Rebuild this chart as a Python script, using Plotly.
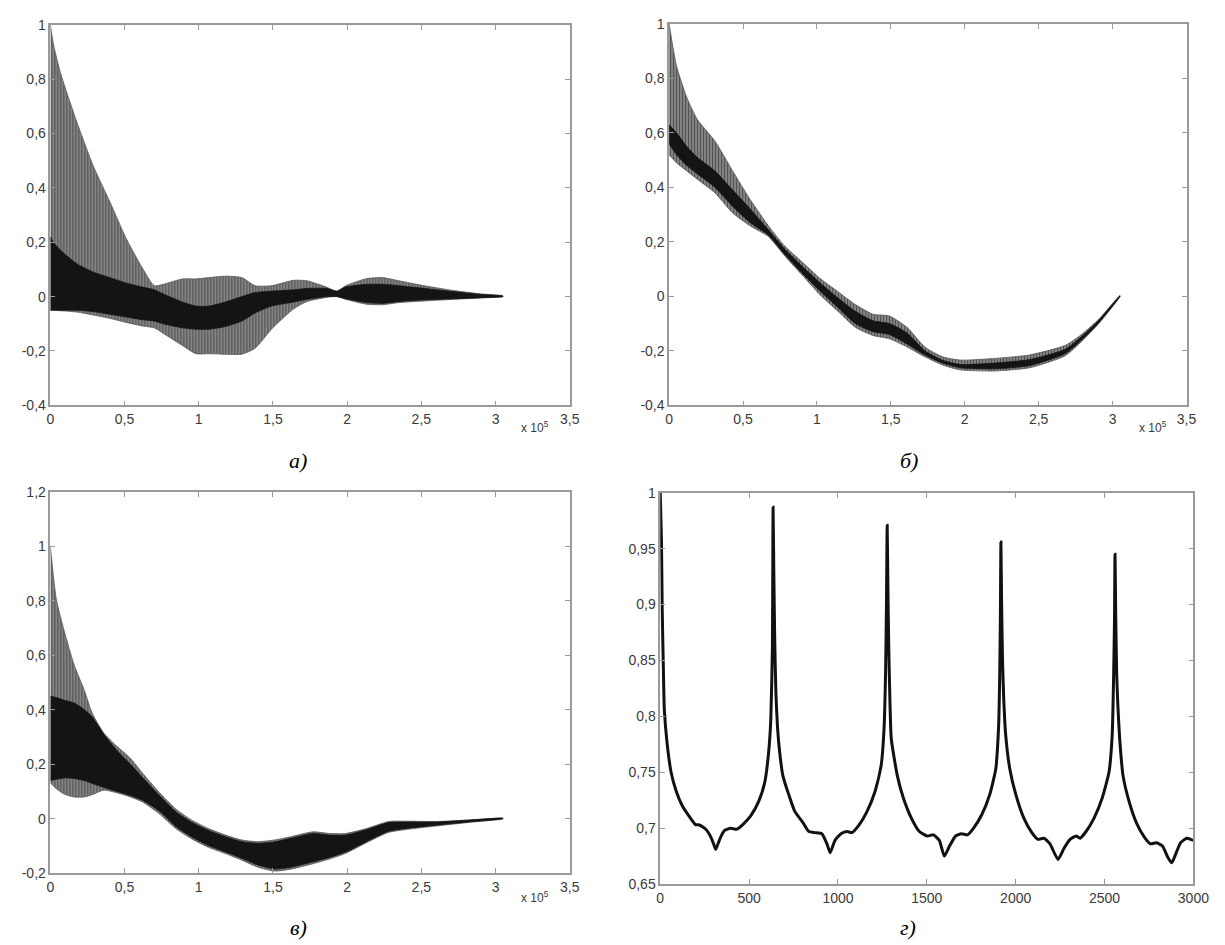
import plotly.graph_objects as go

W, H = 1225, 945

# ---- panel а (x in units of 1e5) ----
a_x = [0, 0.02, 0.07, 0.18, 0.29, 0.40, 0.51, 0.62, 0.70, 0.76, 0.89, 0.98, 1.07, 1.18, 1.29,
       1.38, 1.49, 1.64, 1.73, 1.86, 1.93, 1.99, 2.13, 2.24, 2.35, 2.52, 2.72, 2.90, 3.05]
a_upper = [1.0, 0.93, 0.82, 0.64, 0.48, 0.35, 0.215, 0.105, 0.04, 0.045, 0.065, 0.065, 0.07, 0.075, 0.07,
           0.04, 0.04, 0.06, 0.058, 0.035, 0.02, 0.04, 0.066, 0.07, 0.058, 0.04, 0.022, 0.01, 0.003]
a_lower = [-0.05, -0.05, -0.052, -0.057, -0.068, -0.08, -0.095, -0.108, -0.115, -0.135, -0.18, -0.21, -0.21, -0.212, -0.212,
           -0.19, -0.12, -0.045, -0.018, -0.003, 0.0, -0.01, -0.028, -0.03, -0.022, -0.016, -0.01, -0.005, 0.0]
a_core_hi = [0.22, 0.20, 0.17, 0.12, 0.09, 0.07, 0.05, 0.035, 0.025, 0.01, -0.02, -0.035, -0.035, -0.02, 0.0,
             0.015, 0.02, 0.025, 0.03, 0.03, 0.02, 0.035, 0.045, 0.045, 0.04, 0.03, 0.018, 0.008, 0.002]
a_core_lo = [-0.05, -0.05, -0.05, -0.05, -0.055, -0.065, -0.075, -0.085, -0.09, -0.10, -0.115, -0.12, -0.12, -0.11, -0.09,
             -0.06, -0.035, -0.02, -0.01, 0.0, 0.0, -0.008, -0.022, -0.025, -0.018, -0.012, -0.008, -0.004, 0.0]

# ---- panel б ----
b_x = [0, 0.05, 0.12, 0.19, 0.31, 0.43, 0.55, 0.67, 0.78, 0.90, 1.02, 1.14, 1.26, 1.38, 1.49,
       1.61, 1.73, 1.85, 1.97, 2.20, 2.44, 2.68, 2.79, 2.91, 3.05]
b_upper = [1.0, 0.846, 0.73, 0.65, 0.57, 0.46, 0.354, 0.26, 0.186, 0.126, 0.066, 0.018, -0.03, -0.066, -0.072,
           -0.114, -0.186, -0.222, -0.234, -0.228, -0.215, -0.18, -0.14, -0.082, 0.003]
b_lower = [0.52, 0.49, 0.46, 0.43, 0.38, 0.306, 0.258, 0.22, 0.15, 0.078, 0.006, -0.054, -0.114, -0.144, -0.156,
           -0.186, -0.222, -0.252, -0.27, -0.274, -0.262, -0.218, -0.166, -0.098, -0.001]
b_core_hi = [0.63, 0.60, 0.55, 0.51, 0.46, 0.39, 0.32, 0.245, 0.175, 0.11, 0.05, -0.005, -0.055, -0.09, -0.10,
             -0.135, -0.20, -0.235, -0.25, -0.245, -0.232, -0.194, -0.148, -0.086, 0.002]
b_core_lo = [0.56, 0.52, 0.48, 0.45, 0.40, 0.33, 0.27, 0.225, 0.155, 0.085, 0.02, -0.04, -0.10, -0.13, -0.14,
             -0.175, -0.215, -0.245, -0.262, -0.266, -0.254, -0.21, -0.16, -0.095, 0.0]

# ---- panel в ----
c_x = [0, 0.04, 0.095, 0.16, 0.23, 0.28, 0.36, 0.45, 0.54, 0.62, 0.735, 0.845, 0.956, 1.066, 1.18,
       1.29, 1.40, 1.51, 1.62, 1.77, 1.88, 1.99, 2.13, 2.28, 2.39, 2.61, 2.83, 3.05]
c_upper = [1.0, 0.806, 0.686, 0.565, 0.47, 0.39, 0.315, 0.265, 0.222, 0.168, 0.096, 0.036, -0.006, -0.036, -0.06,
           -0.078, -0.084, -0.078, -0.066, -0.048, -0.054, -0.054, -0.036, -0.01, -0.009, -0.01, -0.004, 0.002]
c_lower = [0.132, 0.11, 0.09, 0.08, 0.08, 0.088, 0.105, 0.095, 0.08, 0.062, 0.018, -0.036, -0.075, -0.105, -0.128,
           -0.152, -0.178, -0.192, -0.185, -0.165, -0.148, -0.127, -0.088, -0.05, -0.04, -0.026, -0.013, 0.0]
c_core_hi = [0.45, 0.445, 0.435, 0.425, 0.40, 0.375, 0.31, 0.25, 0.20, 0.152, 0.085, 0.026, -0.014, -0.043, -0.066,
             -0.084, -0.09, -0.085, -0.072, -0.054, -0.06, -0.06, -0.04, -0.014, -0.012, -0.012, -0.005, 0.002]
c_core_lo = [0.14, 0.145, 0.15, 0.148, 0.14, 0.13, 0.115, 0.10, 0.085, 0.068, 0.028, -0.028, -0.068, -0.098, -0.122,
             -0.145, -0.17, -0.184, -0.178, -0.158, -0.142, -0.122, -0.084, -0.046, -0.036, -0.023, -0.011, 0.0]

# ---- panel г ----
g_x = [0, 4, 7, 11, 18, 23, 38, 61, 90, 124, 170, 200, 215, 240, 262, 285, 300, 312, 325, 340,
       362, 396, 430, 463, 509, 554, 588, 610, 622, 631, 635,
       639, 644, 651, 660, 672, 690, 723, 757, 803, 836, 870, 909, 938, 956, 983, 1017, 1051, 1078, 1119, 1164,
       1209, 1243, 1259, 1268, 1273, 1277,
       1281, 1286, 1293, 1300, 1334, 1368, 1413, 1458, 1503, 1537, 1571, 1598, 1628, 1662, 1695, 1729, 1763, 1809,
       1854, 1888, 1904, 1910, 1914, 1917,
       1921, 1926, 1933, 1944, 1967, 2001, 2046, 2091, 2125, 2159, 2193, 2238, 2272, 2306, 2340, 2362, 2396, 2441,
       2487, 2525, 2543, 2551, 2556, 2559,
       2563, 2568, 2575, 2584, 2604, 2638, 2679, 2724, 2758, 2792, 2826, 2856, 2878, 2901, 2928, 2962, 2985, 3000]
g_y = [1.0, 0.975, 0.956, 0.897, 0.839, 0.806, 0.777, 0.750, 0.733, 0.720, 0.709, 0.703, 0.703, 0.701, 0.698,
       0.692, 0.686, 0.681, 0.686, 0.692, 0.698, 0.700, 0.699, 0.703, 0.711, 0.724, 0.741, 0.768, 0.797, 0.86, 0.987,
       0.93, 0.87, 0.82, 0.79, 0.768, 0.747, 0.73, 0.715, 0.705, 0.697, 0.696, 0.695, 0.686, 0.678, 0.689, 0.695,
       0.697, 0.696, 0.703, 0.715, 0.733, 0.756, 0.788, 0.84, 0.9, 0.971,
       0.915, 0.86, 0.81, 0.78, 0.747, 0.727, 0.709, 0.697, 0.693, 0.694, 0.689, 0.675, 0.684, 0.693, 0.695, 0.694,
       0.700, 0.712, 0.730, 0.753, 0.791, 0.835, 0.89, 0.956,
       0.9, 0.85, 0.815, 0.783, 0.753, 0.73, 0.709, 0.696, 0.690, 0.691, 0.686, 0.672, 0.682, 0.690, 0.693, 0.691,
       0.697, 0.709, 0.727, 0.750, 0.783, 0.835, 0.885, 0.945,
       0.89, 0.84, 0.81, 0.783, 0.747, 0.724, 0.705, 0.692, 0.686, 0.687, 0.684, 0.674, 0.669, 0.677, 0.687, 0.691,
       0.690, 0.689]

# ---- ticks ----
x_e5_ticks = [0, 0.5, 1, 1.5, 2, 2.5, 3, 3.5]
x_e5_labels = ["0", "0,5", "1", "1,5", "2", "2,5", "3", "3,5"]
y_ab_ticks = [-0.4, -0.2, 0, 0.2, 0.4, 0.6, 0.8, 1]
y_ab_labels = ["-0,4", "-0,2", "0", "0,2", "0,4", "0,6", "0,8", "1"]
y_c_ticks = [-0.2, 0, 0.2, 0.4, 0.6, 0.8, 1, 1.2]
y_c_labels = ["-0,2", "0", "0,2", "0,4", "0,6", "0,8", "1", "1,2"]
x_g_ticks = [0, 500, 1000, 1500, 2000, 2500, 3000]
x_g_labels = ["0", "500", "1000", "1500", "2000", "2500", "3000"]
y_g_ticks = [0.65, 0.7, 0.75, 0.8, 0.85, 0.9, 0.95, 1]
y_g_labels = ["0,65", "0,7", "0,75", "0,8", "0,85", "0,9", "0,95", "1"]


def band(x, hi, lo):
    return x + x[::-1], hi + lo[::-1]


def add_envelope(fig, x, hi, lo, core_hi, core_lo, n):
    xa, ya = "x" + n, "y" + n
    bx, by = band(x, hi, lo)
    fig.add_trace(go.Scatter(
        x=bx, y=by, mode="lines", fill="toself",
        line=dict(width=0.8, color="#555", shape="spline", smoothing=0.6),
        fillcolor="#6e6e6e",
        fillpattern=dict(shape="|", fgcolor="#0e0e0e", bgcolor="#8e8e8e", size=3, solidity=0.45),
        xaxis=xa, yaxis=ya, hoverinfo="skip",
    ))
    cx, cy = band(x, core_hi, core_lo)
    fig.add_trace(go.Scatter(
        x=cx, y=cy, mode="lines", fill="toself",
        line=dict(width=0.8, color="#141414", shape="spline", smoothing=0.6),
        fillcolor="#141414",
        xaxis=xa, yaxis=ya, hoverinfo="skip",
    ))


fig = go.Figure()
add_envelope(fig, a_x, a_upper, a_lower, a_core_hi, a_core_lo, "")
add_envelope(fig, b_x, b_upper, b_lower, b_core_hi, b_core_lo, "2")
add_envelope(fig, c_x, c_upper, c_lower, c_core_hi, c_core_lo, "3")
fig.add_trace(go.Scatter(x=g_x, y=g_y, mode="lines",
                         line=dict(color="#111", width=3, shape="spline", smoothing=0.5),
                         xaxis="x4", yaxis="y4", hoverinfo="skip"))


def dom_x(l, r):
    return [l / W, r / W]


def dom_y(t, b):
    return [1 - b / H, 1 - t / H]


tick_font = dict(family="Liberation Sans, Arial, sans-serif", size=14, color="#3a3a3a")
axis_style = dict(
    showline=True, linecolor="#9a9a9a", linewidth=1.5, mirror="ticks",
    ticks="inside", ticklen=5, tickcolor="#9a9a9a", tickwidth=1,
    showgrid=False, zeroline=False, tickfont=tick_font, fixedrange=True,
)

fig.update_layout(
    width=W, height=H,
    margin=dict(l=0, r=0, t=0, b=0),
    paper_bgcolor="white", plot_bgcolor="white",
    showlegend=False,
    xaxis=dict(domain=dom_x(39, 567), anchor="y", range=[0, 3.5],
               tickvals=x_e5_ticks, ticktext=x_e5_labels, **axis_style),
    yaxis=dict(domain=dom_y(9, 396), anchor="x", range=[-0.4, 1],
               tickvals=y_ab_ticks, ticktext=y_ab_labels, **axis_style),
    xaxis2=dict(domain=dom_x(668, 1194), anchor="y2", range=[0, 3.5],
                tickvals=x_e5_ticks, ticktext=x_e5_labels, **axis_style),
    yaxis2=dict(domain=dom_y(8, 396), anchor="x2", range=[-0.4, 1],
                tickvals=y_ab_ticks, ticktext=y_ab_labels, **axis_style),
    xaxis3=dict(domain=dom_x(39, 567), anchor="y3", range=[0, 3.5],
                tickvals=x_e5_ticks, ticktext=x_e5_labels, **axis_style),
    yaxis3=dict(domain=dom_y(484, 872), anchor="x3", range=[-0.2, 1.2],
                tickvals=y_c_ticks, ticktext=y_c_labels, **axis_style),
    xaxis4=dict(domain=dom_x(659, 1201), anchor="y4", range=[0, 3000],
                tickvals=x_g_ticks, ticktext=x_g_labels, **axis_style),
    yaxis4=dict(domain=dom_y(485, 883), anchor="x4", range=[0.65, 1],
                tickvals=y_g_ticks, ticktext=y_g_labels, **axis_style),
)


def note(text, px, py, size, family, color="#000"):
    fig.add_annotation(text=text, xref="paper", yref="paper", x=px / W, y=1 - py / H,
                       xanchor="center", yanchor="middle", showarrow=False,
                       font=dict(size=size, family=family, color=color))


sci = "x 10<sup>5</sup>"
note(sci, 532, 418, 12, "Liberation Sans, Arial", "#3a3a3a")
note(sci, 1160, 418, 12, "Liberation Sans, Arial", "#3a3a3a")
note(sci, 532, 896, 12, "Liberation Sans, Arial", "#3a3a3a")

serif = "Liberation Serif, Times New Roman, serif"
note("<i>а)</i>", 291, 452, 22, serif)
note("<i>б)</i>", 912, 452, 22, serif)
note("<i>в)</i>", 291, 927, 22, serif)
note("<i>г)</i>", 911, 927, 22, serif)

fig.write_html("out.html")
